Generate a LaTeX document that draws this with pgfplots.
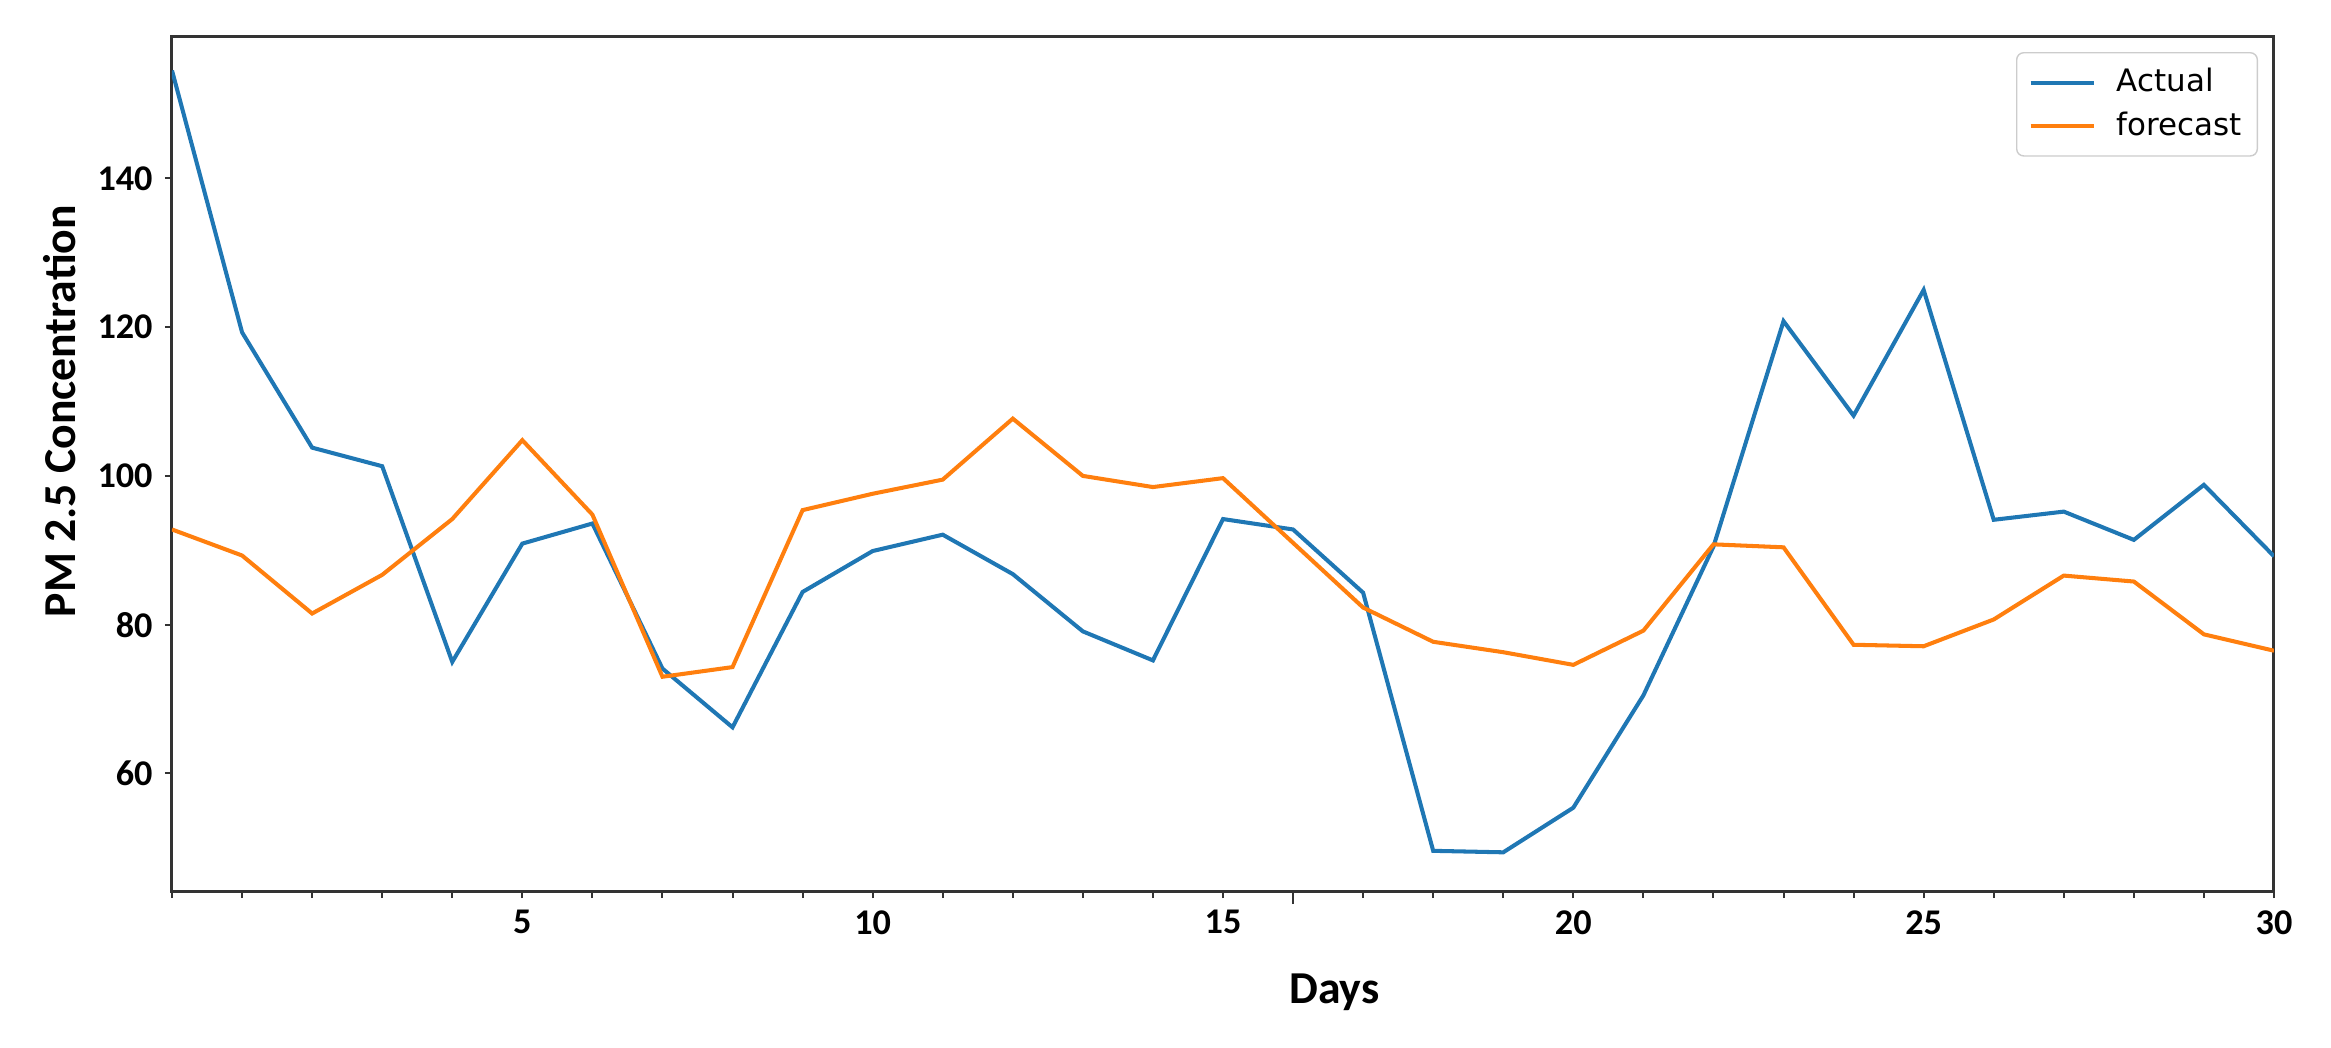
\documentclass[border=0pt]{standalone}
\usepackage{fontspec}
\setmainfont{Carlito}
\newfontfamily\legendfont{DejaVu Sans}
\usepackage{pgfplots}
\pgfplotsset{compat=1.18}
\definecolor{actualblue}{HTML}{1F77B4}
\definecolor{fcorange}{HTML}{FF7F0E}

\begin{document}
\begin{tikzpicture}
\useasboundingbox (-17.2mm,-15.6mm) rectangle (215.9mm,89.1mm);
\begin{axis}[
    at={(0,0)}, anchor=south west,
    width=210.2mm, height=85.4mm, scale only axis,
    xmin=0, xmax=30,
    ymin=44.2, ymax=159.0,
    xtick={5,10,...,30},
    minor xtick={0,...,30},
    extra x ticks={16}, extra x tick labels={},
    extra x tick style={major tick length=1.3mm},
    ytick={60,80,...,140},
    tick pos=left,
    tick align=outside,
    major tick length=0.7mm, minor tick length=0.7mm,
    axis line style={line width=0.3mm, black!80},
    every tick/.style={black!80, line width=0.2mm},
    ticklabel style={font=\fontsize{10.3}{12}\selectfont\bfseries},
    /pgf/number format/assume math mode=true,
    xlabel={Days},
    ylabel={PM 2.5 Concentration},
    label style={font=\fontsize{13}{15}\selectfont\bfseries},
    xlabel style={at={(axis description cs:0.553,-0.119)}, anchor=center},
    ylabel style={at={(axis description cs:-0.0533,0.562)}, anchor=center},
    legend cell align=left,
    legend style={at={(0.9924,0.9824)}, anchor=north east,
        draw=black!20, rounded corners=2pt,
        font=\legendfont\fontsize{8.8}{10.5}\selectfont,
        inner sep=3.4pt, row sep=2.2pt, column sep=5pt,
        nodes={inner sep=1pt}},
    legend image code/.code={\draw[#1] (0mm,0mm) -- (6.3mm,0mm);},
]

\addplot[actualblue, line width=1.15pt] coordinates {
    (0,154.5) (1,119.3) (2,103.8) (3,101.3) (4,75.0) (5,90.9)
    (6,93.6) (7,74.1) (8,66.2) (9,84.4) (10,89.9) (11,92.1)
    (12,86.8) (13,79.1) (14,75.2) (15,94.2) (16,92.8) (17,84.3)
    (18,49.6) (19,49.4) (20,55.4) (21,70.5) (22,90.5) (23,120.8)
    (24,108.1) (25,125.0) (26,94.1) (27,95.2) (28,91.4) (29,98.8)
    (30,89.2)
};
\addlegendentry{Actual}

\addplot[fcorange, line width=1.15pt] coordinates {
    (0,92.8) (1,89.3) (2,81.5) (3,86.7) (4,94.2) (5,104.8)
    (6,94.8) (7,73.0) (8,74.3) (9,95.4) (10,97.6) (11,99.5)
    (12,107.7) (13,100.0) (14,98.5) (15,99.7) (16,91.0) (17,82.3)
    (18,77.7) (19,76.3) (20,74.6) (21,79.2) (22,90.8) (23,90.4)
    (24,77.3) (25,77.1) (26,80.7) (27,86.6) (28,85.8) (29,78.7)
    (30,76.5)
};
\addlegendentry{forecast}

\end{axis}
\end{tikzpicture}
\end{document}
